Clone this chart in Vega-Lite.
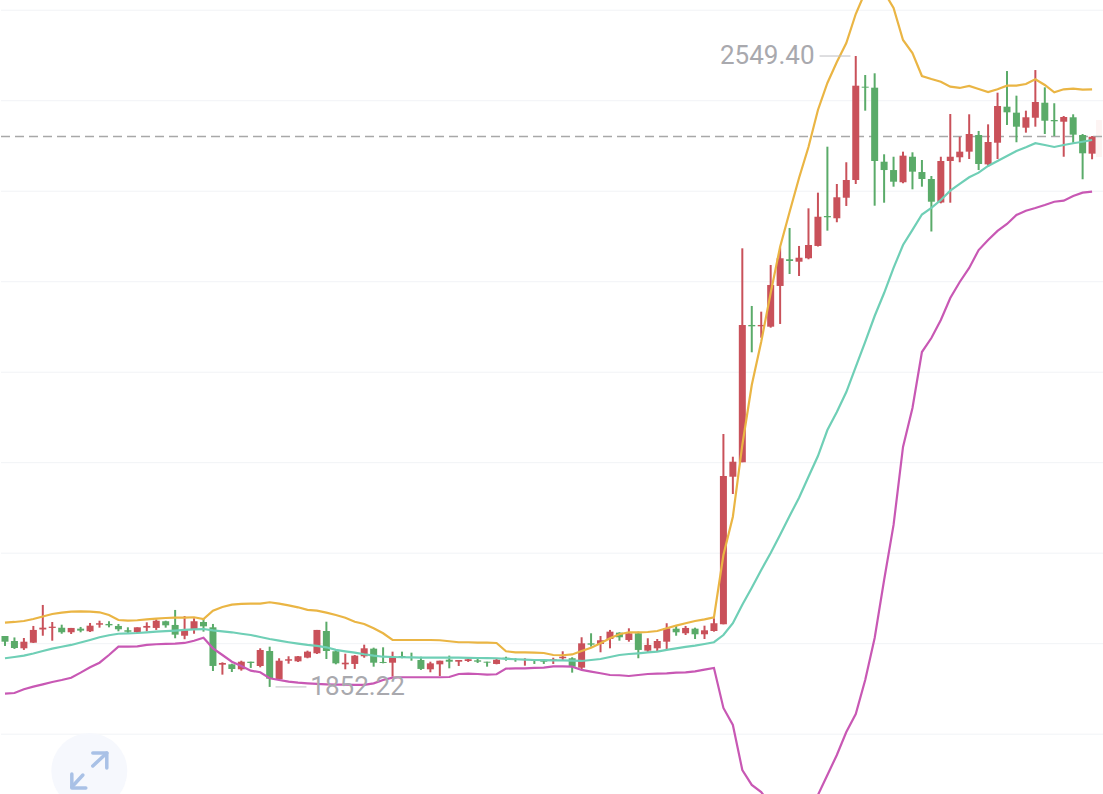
{"$schema":"https://vega.github.io/schema/vega-lite/v6.json","autosize":{"type":"fit","contains":"padding"},"width":1103,"height":794,"padding":0,"background":"#ffffff","view":{"stroke":null},"config":{"style":{"cell":{"stroke":null}}},
"datasets":{"candles":[
{"i":0,"open":1908.5,"close":1902.2,"high":1908.5,"low":1897.5,"upper":1923.2,"mid":1883.9,"lower":1844.8},
{"i":1,"open":1903.0,"close":1895.3,"high":1906.9,"low":1894.2,"upper":1924.0,"mid":1885.3,"lower":1845.5},
{"i":2,"open":1894.9,"close":1902.2,"high":1906.3,"low":1893.1,"upper":1925.1,"mid":1886.8,"lower":1849.6},
{"i":3,"open":1901.1,"close":1915.2,"high":1919.6,"low":1900.8,"upper":1927.3,"mid":1889.2,"lower":1852.5},
{"i":4,"open":1915.7,"close":1917.7,"high":1942.8,"low":1908.8,"upper":1930.1,"mid":1891.9,"lower":1855.1},
{"i":5,"open":1917.4,"close":1918.8,"high":1924.0,"low":1903.3,"upper":1932.8,"mid":1894.5,"lower":1857.7},
{"i":6,"open":1917.7,"close":1912.6,"high":1921.0,"low":1911.0,"upper":1934.3,"mid":1896.6,"lower":1859.9},
{"i":7,"open":1912.6,"close":1917.4,"high":1917.4,"low":1910.7,"upper":1935.4,"mid":1898.6,"lower":1862.4},
{"i":8,"open":1916.6,"close":1914.4,"high":1918.5,"low":1912.6,"upper":1935.6,"mid":1901.3,"lower":1868.0},
{"i":9,"open":1913.7,"close":1919.9,"high":1922.9,"low":1912.9,"upper":1935.4,"mid":1904.1,"lower":1873.9},
{"i":10,"open":1921.0,"close":1922.6,"high":1925.4,"low":1917.7,"upper":1934.7,"mid":1907.1,"lower":1879.0},
{"i":11,"open":1921.8,"close":1920.3,"high":1924.8,"low":1918.1,"upper":1931.7,"mid":1909.3,"lower":1887.5},
{"i":12,"open":1919.6,"close":1915.9,"high":1921.8,"low":1913.7,"upper":1926.2,"mid":1911.0,"lower":1896.7},
{"i":13,"open":1914.8,"close":1913.3,"high":1918.1,"low":1911.5,"upper":1925.4,"mid":1911.5,"lower":1896.7},
{"i":14,"open":1912.6,"close":1918.1,"high":1918.1,"low":1911.5,"upper":1925.9,"mid":1911.8,"lower":1897.1},
{"i":15,"open":1917.7,"close":1919.6,"high":1923.6,"low":1913.7,"upper":1926.8,"mid":1912.6,"lower":1898.6},
{"i":16,"open":1917.4,"close":1925.4,"high":1926.9,"low":1915.2,"upper":1927.6,"mid":1913.3,"lower":1899.4},
{"i":17,"open":1924.8,"close":1920.3,"high":1925.4,"low":1917.7,"upper":1928.4,"mid":1913.8,"lower":1899.7},
{"i":18,"open":1920.7,"close":1910.0,"high":1937.3,"low":1906.0,"upper":1928.7,"mid":1914.4,"lower":1900.0},
{"i":19,"open":1908.8,"close":1915.9,"high":1930.6,"low":1904.9,"upper":1928.9,"mid":1915.2,"lower":1900.8},
{"i":20,"open":1915.9,"close":1924.8,"high":1928.1,"low":1911.0,"upper":1929.2,"mid":1915.9,"lower":1903.3},
{"i":21,"open":1924.0,"close":1919.2,"high":1928.1,"low":1913.3,"upper":1927.3,"mid":1916.2,"lower":1906.6},
{"i":22,"open":1918.1,"close":1875.4,"high":1921.8,"low":1869.8,"upper":1936.5,"mid":1914.8,"lower":1894.9},
{"i":23,"open":1876.8,"close":1878.7,"high":1879.4,"low":1865.8,"upper":1940.6,"mid":1913.7,"lower":1887.5},
{"i":24,"open":1877.2,"close":1872.0,"high":1877.9,"low":1868.7,"upper":1943.1,"mid":1912.6,"lower":1880.1},
{"i":25,"open":1871.7,"close":1880.1,"high":1881.2,"low":1870.2,"upper":1943.9,"mid":1911.0,"lower":1875.4},
{"i":26,"open":1880.1,"close":1878.7,"high":1880.1,"low":1873.2,"upper":1944.2,"mid":1909.6,"lower":1870.2},
{"i":27,"open":1875.4,"close":1893.1,"high":1894.9,"low":1873.9,"upper":1944.2,"mid":1907.4,"lower":1868.4},
{"i":28,"open":1891.9,"close":1861.3,"high":1896.7,"low":1852.22,"upper":1945.8,"mid":1905.2,"lower":1861.8},
{"i":29,"open":1860.6,"close":1881.2,"high":1883.9,"low":1859.9,"upper":1944.2,"mid":1903.3,"lower":1859.9},
{"i":30,"open":1881.2,"close":1882.8,"high":1886.1,"low":1877.9,"upper":1942.4,"mid":1901.6,"lower":1858.0},
{"i":31,"open":1880.5,"close":1886.1,"high":1886.4,"low":1879.8,"upper":1940.2,"mid":1900.0,"lower":1856.9},
{"i":32,"open":1884.6,"close":1891.2,"high":1892.3,"low":1883.9,"upper":1937.3,"mid":1898.6,"lower":1856.2},
{"i":33,"open":1889.4,"close":1915.2,"high":1915.2,"low":1888.6,"upper":1936.5,"mid":1897.5,"lower":1855.5},
{"i":34,"open":1914.0,"close":1891.9,"high":1924.3,"low":1883.1,"upper":1934.3,"mid":1896.0,"lower":1855.1},
{"i":35,"open":1891.6,"close":1878.3,"high":1893.1,"low":1877.2,"upper":1931.7,"mid":1893.1,"lower":1854.7},
{"i":36,"open":1877.2,"close":1879.0,"high":1888.9,"low":1871.7,"upper":1928.7,"mid":1891.6,"lower":1854.7},
{"i":37,"open":1877.6,"close":1886.8,"high":1887.5,"low":1872.1,"upper":1924.3,"mid":1890.1,"lower":1854.4},
{"i":38,"open":1886.1,"close":1894.9,"high":1898.9,"low":1884.5,"upper":1921.8,"mid":1888.3,"lower":1854.4},
{"i":39,"open":1894.5,"close":1879.0,"high":1895.6,"low":1874.6,"upper":1917.0,"mid":1886.8,"lower":1856.2},
{"i":40,"open":1879.8,"close":1878.7,"high":1896.0,"low":1878.3,"upper":1911.5,"mid":1885.6,"lower":1859.9},
{"i":41,"open":1879.0,"close":1885.6,"high":1891.2,"low":1863.6,"upper":1904.1,"mid":1885.3,"lower":1862.4},
{"i":42,"open":1886.4,"close":1884.5,"high":1891.2,"low":1883.9,"upper":1904.1,"mid":1885.0,"lower":1862.9},
{"i":43,"open":1885.3,"close":1884.2,"high":1890.1,"low":1881.2,"upper":1904.1,"mid":1884.8,"lower":1862.9},
{"i":44,"open":1882.0,"close":1872.1,"high":1885.6,"low":1871.0,"upper":1904.1,"mid":1884.5,"lower":1862.9},
{"i":45,"open":1871.7,"close":1878.3,"high":1880.1,"low":1868.4,"upper":1904.1,"mid":1884.5,"lower":1862.9},
{"i":46,"open":1877.2,"close":1881.2,"high":1881.2,"low":1864.3,"upper":1903.8,"mid":1884.5,"lower":1862.9},
{"i":47,"open":1882.3,"close":1880.1,"high":1886.8,"low":1872.8,"upper":1902.7,"mid":1884.5,"lower":1863.2},
{"i":48,"open":1880.1,"close":1882.0,"high":1882.0,"low":1875.4,"upper":1901.6,"mid":1884.5,"lower":1866.5},
{"i":49,"open":1880.9,"close":1882.8,"high":1884.5,"low":1879.8,"upper":1901.6,"mid":1884.3,"lower":1866.9},
{"i":50,"open":1881.6,"close":1880.1,"high":1883.9,"low":1878.7,"upper":1901.1,"mid":1884.2,"lower":1866.5},
{"i":51,"open":1880.1,"close":1879.0,"high":1880.1,"low":1874.6,"upper":1901.1,"mid":1884.0,"lower":1865.8},
{"i":52,"open":1877.6,"close":1882.3,"high":1883.9,"low":1877.2,"upper":1900.8,"mid":1883.9,"lower":1866.2},
{"i":53,"open":1884.5,"close":1883.4,"high":1885.6,"low":1881.2,"upper":1891.6,"mid":1883.3,"lower":1872.4},
{"i":54,"open":1882.8,"close":1882.0,"high":1883.9,"low":1880.1,"upper":1890.5,"mid":1882.8,"lower":1872.8},
{"i":55,"open":1882.0,"close":1882.8,"high":1883.9,"low":1875.7,"upper":1890.5,"mid":1882.3,"lower":1872.8},
{"i":56,"open":1882.0,"close":1880.9,"high":1883.1,"low":1877.6,"upper":1890.1,"mid":1882.0,"lower":1873.2},
{"i":57,"open":1881.2,"close":1880.1,"high":1883.1,"low":1877.6,"upper":1889.7,"mid":1881.8,"lower":1873.5},
{"i":58,"open":1880.9,"close":1882.8,"high":1884.5,"low":1877.6,"upper":1887.5,"mid":1881.6,"lower":1875.0},
{"i":59,"open":1883.9,"close":1885.6,"high":1891.6,"low":1882.0,"upper":1887.2,"mid":1881.6,"lower":1875.0},
{"i":60,"open":1883.9,"close":1874.6,"high":1885.0,"low":1868.0,"upper":1888.1,"mid":1881.2,"lower":1874.6},
{"i":61,"open":1873.5,"close":1900.4,"high":1907.1,"low":1871.0,"upper":1891.9,"mid":1880.9,"lower":1871.0},
{"i":62,"open":1900.4,"close":1898.9,"high":1911.5,"low":1896.7,"upper":1895.6,"mid":1882.0,"lower":1869.1},
{"i":63,"open":1899.7,"close":1903.8,"high":1908.5,"low":1890.5,"upper":1900.4,"mid":1883.1,"lower":1867.3},
{"i":64,"open":1905.2,"close":1913.3,"high":1915.2,"low":1894.9,"upper":1906.0,"mid":1885.3,"lower":1865.4},
{"i":65,"open":1912.2,"close":1907.1,"high":1912.6,"low":1903.3,"upper":1910.4,"mid":1887.5,"lower":1865.1},
{"i":66,"open":1904.1,"close":1911.5,"high":1917.0,"low":1902.2,"upper":1912.6,"mid":1888.6,"lower":1864.3},
{"i":67,"open":1911.5,"close":1893.1,"high":1913.3,"low":1883.9,"upper":1912.6,"mid":1889.4,"lower":1865.4},
{"i":68,"open":1892.3,"close":1898.6,"high":1906.0,"low":1890.5,"upper":1912.9,"mid":1890.3,"lower":1866.5},
{"i":69,"open":1894.9,"close":1903.0,"high":1905.2,"low":1891.9,"upper":1914.0,"mid":1891.2,"lower":1866.9},
{"i":70,"open":1902.2,"close":1917.0,"high":1922.6,"low":1893.8,"upper":1917.0,"mid":1893.1,"lower":1867.3},
{"i":71,"open":1916.6,"close":1912.6,"high":1919.6,"low":1908.8,"upper":1919.9,"mid":1894.9,"lower":1868.0},
{"i":72,"open":1911.5,"close":1917.4,"high":1919.6,"low":1909.6,"upper":1922.6,"mid":1896.4,"lower":1868.4},
{"i":73,"open":1916.6,"close":1910.4,"high":1917.7,"low":1905.2,"upper":1925.1,"mid":1897.8,"lower":1869.5},
{"i":74,"open":1910.4,"close":1914.8,"high":1919.9,"low":1905.2,"upper":1926.9,"mid":1899.7,"lower":1871.3},
{"i":75,"open":1914.0,"close":1922.6,"high":1928.1,"low":1913.3,"upper":1929.2,"mid":1901.6,"lower":1873.2},
{"i":76,"open":1921.4,"close":2085.3,"high":2131.7,"low":1921.4,"upper":1998.0,"mid":1909.6,"lower":1829.0},
{"i":77,"open":2084.5,"close":2101.1,"high":2106.6,"low":2065.4,"upper":2040.3,"mid":1922.6,"lower":1810.2},
{"i":78,"open":2100.5,"close":2252.2,"high":2336.9,"low":2100.5,"upper":2119.6,"mid":1943.1,"lower":1760.4},
{"i":79,"open":2252.2,"close":2250.7,"high":2273.2,"low":2222.0,"upper":2185.9,"mid":1961.9,"lower":1743.9},
{"i":80,"open":2250.7,"close":2252.2,"high":2266.9,"low":2238.1,"upper":2233.7,"mid":1981.4,"lower":1736.1},
{"i":81,"open":2250.3,"close":2296.4,"high":2318.5,"low":2249.2,"upper":2287.5,"mid":2000.2,"lower":1721.8},
{"i":82,"open":2295.3,"close":2325.9,"high":2338.0,"low":2253.3,"upper":2338.7,"mid":2020.5,"lower":1710.7},
{"i":83,"open":2324.8,"close":2322.9,"high":2359.4,"low":2308.5,"upper":2377.0,"mid":2041.1,"lower":1703.0},
{"i":84,"open":2322.1,"close":2326.5,"high":2339.5,"low":2306.3,"upper":2414.6,"mid":2061.3,"lower":1699.7},
{"i":85,"open":2325.9,"close":2340.6,"high":2381.1,"low":2324.8,"upper":2448.9,"mid":2084.5,"lower":1703.0},
{"i":86,"open":2339.5,"close":2371.8,"high":2398.4,"low":2338.9,"upper":2489.8,"mid":2107.4,"lower":1732.8},
{"i":87,"open":2372.6,"close":2371.2,"high":2449.2,"low":2356.4,"upper":2519.6,"mid":2136.1,"lower":1754.9},
{"i":88,"open":2370.1,"close":2393.3,"high":2408.0,"low":2365.7,"upper":2542.8,"mid":2156.0,"lower":1777.0},
{"i":89,"open":2392.8,"close":2412.4,"high":2432.0,"low":2383.7,"upper":2563.8,"mid":2178.1,"lower":1802.4},
{"i":90,"open":2412.4,"close":2516.6,"high":2549.4,"low":2408.0,"upper":2595.8,"mid":2205.8,"lower":1822.3},
{"i":91,"open":2515.5,"close":2514.4,"high":2528.4,"low":2489.0,"upper":2620.1,"mid":2233.4,"lower":1859.9},
{"i":92,"open":2514.4,"close":2433.4,"high":2530.3,"low":2384.0,"upper":2629.0,"mid":2262.1,"lower":1906.3},
{"i":93,"open":2432.6,"close":2423.4,"high":2440.8,"low":2387.3,"upper":2620.1,"mid":2287.5,"lower":1970.4},
{"i":94,"open":2423.4,"close":2410.5,"high":2438.1,"low":2405.0,"upper":2602.5,"mid":2315.2,"lower":2031.2},
{"i":95,"open":2409.9,"close":2439.3,"high":2443.7,"low":2408.8,"upper":2567.1,"mid":2340.6,"lower":2117.4},
{"i":96,"open":2438.1,"close":2421.6,"high":2443.0,"low":2402.1,"upper":2552.7,"mid":2357.2,"lower":2160.5},
{"i":97,"open":2421.2,"close":2413.5,"high":2434.5,"low":2405.0,"upper":2527.3,"mid":2374.3,"lower":2222.3},
{"i":98,"open":2413.5,"close":2388.4,"high":2416.8,"low":2355.5,"upper":2524.0,"mid":2381.5,"lower":2237.8},
{"i":99,"open":2387.5,"close":2433.4,"high":2438.1,"low":2386.6,"upper":2521.0,"mid":2390.3,"lower":2257.7},
{"i":100,"open":2433.4,"close":2438.1,"high":2485.3,"low":2387.3,"upper":2515.5,"mid":2400.6,"lower":2282.0},
{"i":101,"open":2437.5,"close":2443.7,"high":2460.2,"low":2432.0,"upper":2514.1,"mid":2408.0,"lower":2299.7},
{"i":102,"open":2443.7,"close":2463.2,"high":2485.0,"low":2435.6,"upper":2516.3,"mid":2415.4,"lower":2315.2},
{"i":103,"open":2462.1,"close":2430.1,"high":2466.6,"low":2423.4,"upper":2513.0,"mid":2420.5,"lower":2335.0},
{"i":104,"open":2429.7,"close":2454.4,"high":2473.9,"low":2427.1,"upper":2509.6,"mid":2427.9,"lower":2346.1},
{"i":105,"open":2453.6,"close":2494.2,"high":2508.9,"low":2435.6,"upper":2512.6,"mid":2433.4,"lower":2356.1},
{"i":106,"open":2493.4,"close":2487.2,"high":2532.8,"low":2473.2,"upper":2516.6,"mid":2438.9,"lower":2363.8},
{"i":107,"open":2486.8,"close":2471.3,"high":2505.6,"low":2454.1,"upper":2516.6,"mid":2444.4,"lower":2373.7},
{"i":108,"open":2470.2,"close":2481.7,"high":2489.0,"low":2464.7,"upper":2518.5,"mid":2448.5,"lower":2378.5},
{"i":109,"open":2481.2,"close":2498.6,"high":2533.9,"low":2471.3,"upper":2523.7,"mid":2453.0,"lower":2381.5},
{"i":110,"open":2497.8,"close":2477.9,"high":2514.8,"low":2463.2,"upper":2517.4,"mid":2451.1,"lower":2384.8},
{"i":111,"open":2478.7,"close":2477.3,"high":2497.2,"low":2461.0,"upper":2509.3,"mid":2448.9,"lower":2388.4},
{"i":112,"open":2476.8,"close":2482.0,"high":2483.1,"low":2438.1,"upper":2512.6,"mid":2451.1,"lower":2389.5},
{"i":113,"open":2481.7,"close":2462.5,"high":2485.0,"low":2453.6,"upper":2513.3,"mid":2453.0,"lower":2394.7},
{"i":114,"open":2462.1,"close":2441.9,"high":2463.2,"low":2413.2,"upper":2512.2,"mid":2454.7,"lower":2398.4},
{"i":115,"open":2441.5,"close":2460.2,"high":2461.0,"low":2435.3,"upper":2512.6,"mid":2456.6,"lower":2399.5}
],
"icon":[
{"seg":"a","n":0,"i":9.29,"p":1764.9},{"seg":"a","n":1,"i":10.77,"p":1779.2},
{"seg":"b","n":0,"i":9.29,"p":1779.2},{"seg":"b","n":1,"i":10.77,"p":1779.2},{"seg":"b","n":2,"i":10.77,"p":1762.7},
{"seg":"c","n":0,"i":8.24,"p":1754.9},{"seg":"c","n":1,"i":7.07,"p":1741.7},
{"seg":"d","n":0,"i":7.07,"p":1756.0},{"seg":"d","n":1,"i":7.07,"p":1740.6},{"seg":"d","n":2,"i":8.55,"p":1740.6}
]},
"encoding":{"x":{"field":"i","type":"quantitative","axis":null,"scale":{"domain":[-0.422,116.05],"nice":false,"zero":false,"padding":0}}},
"layer":[
{"data":{"values":[{"p":1800},{"p":1900},{"p":2000},{"p":2100},{"p":2200},{"p":2300},{"p":2400},{"p":2500},{"p":2600}]},"mark":{"type":"rule","color":"#f1f3f6","strokeWidth":1},"encoding":{"x":{"value":0},"x2":{"value":1103},"y":{"field":"p","type":"quantitative","axis":null,"scale":{"domain":[1733.9,2611.3],"nice":false,"zero":false}}}},
{"data":{"values":[{"i":115.42,"i2":116.05,"p":2478.7,"p2":2437.8}]},"mark":{"type":"rect","color":"#fdf4f3"},"encoding":{"x2":{"field":"i2"},"y":{"field":"p","type":"quantitative","axis":null,"scale":{"domain":[1733.9,2611.3],"nice":false,"zero":false}},"y2":{"field":"p2"}}},
{"data":{"values":[{"i":8.92,"p":1759.3}]},"mark":{"type":"point","filled":true,"size":5776,"color":"#f6f8fd","opacity":1,"clip":true},"encoding":{"y":{"field":"p","type":"quantitative","axis":null,"scale":{"domain":[1733.9,2611.3],"nice":false,"zero":false}}}},
{"data":{"name":"icon"},"mark":{"type":"line","color":"#a9c1e6","strokeWidth":3.5,"strokeCap":"round","strokeJoin":"round","clip":true},"encoding":{"y":{"field":"p","type":"quantitative","axis":null,"scale":{"domain":[1733.9,2611.3],"nice":false,"zero":false}},"detail":{"field":"seg"},"order":{"field":"n"}}},
{"data":{"values":[{"p":2460.5}]},"mark":{"type":"rule","color":"#a8a8a8","strokeWidth":1.6,"strokeDash":[9,5]},"encoding":{"x":{"value":0},"x2":{"value":1103},"y":{"field":"p","type":"quantitative","axis":null,"scale":{"domain":[1733.9,2611.3],"nice":false,"zero":false}}}},
{"data":{"name":"candles"},"mark":{"type":"rule","strokeWidth":2,"clip":true},"encoding":{"y":{"field":"high","type":"quantitative","axis":null,"scale":{"domain":[1733.9,2611.3],"nice":false,"zero":false}},"y2":{"field":"low"},"color":{"condition":{"test":"datum.close>=datum.open","value":"#c9515a"},"value":"#5aab69"}}},
{"data":{"name":"candles"},"mark":{"type":"bar","size":7,"clip":true},"encoding":{"y":{"field":"open","type":"quantitative","axis":null,"scale":{"domain":[1733.9,2611.3],"nice":false,"zero":false}},"y2":{"field":"close"},"color":{"condition":{"test":"datum.close>=datum.open","value":"#c9515a"},"value":"#5aab69"}}},
{"data":{"name":"candles"},"mark":{"type":"line","color":"#eab544","strokeWidth":2.2,"clip":true},"encoding":{"y":{"field":"upper","type":"quantitative","axis":null,"scale":{"domain":[1733.9,2611.3],"nice":false,"zero":false}}}},
{"data":{"name":"candles"},"mark":{"type":"line","color":"#6fcfb6","strokeWidth":2.2,"clip":true},"encoding":{"y":{"field":"mid","type":"quantitative","axis":null,"scale":{"domain":[1733.9,2611.3],"nice":false,"zero":false}}}},
{"data":{"name":"candles"},"mark":{"type":"line","color":"#c858b4","strokeWidth":2.2,"clip":true},"encoding":{"y":{"field":"lower","type":"quantitative","axis":null,"scale":{"domain":[1733.9,2611.3],"nice":false,"zero":false}}}},
{"data":{"values":[{"i":86.17,"i2":89.44,"p":2549.4},{"i":28.62,"i2":31.89,"p":1852.22}]},"mark":{"type":"rule","color":"#bdbdc2","strokeWidth":1},"encoding":{"x2":{"field":"i2"},"y":{"field":"p","type":"quantitative","axis":null,"scale":{"domain":[1733.9,2611.3],"nice":false,"zero":false}}}},
{"data":{"values":[{"i":85.64,"p":2549.4,"label":"2549.40"}]},"mark":{"type":"text","align":"right","baseline":"middle","font":"Roboto","fontSize":26,"color":"#a9a9ae"},"encoding":{"y":{"field":"p","type":"quantitative","axis":null,"scale":{"domain":[1733.9,2611.3],"nice":false,"zero":false}},"text":{"field":"label"}}},
{"data":{"values":[{"i":32.3,"p":1852.22,"label":"1852.22"}]},"mark":{"type":"text","align":"left","baseline":"middle","font":"Roboto","fontSize":26,"color":"#a9a9ae"},"encoding":{"y":{"field":"p","type":"quantitative","axis":null,"scale":{"domain":[1733.9,2611.3],"nice":false,"zero":false}},"text":{"field":"label"}}}
]}
